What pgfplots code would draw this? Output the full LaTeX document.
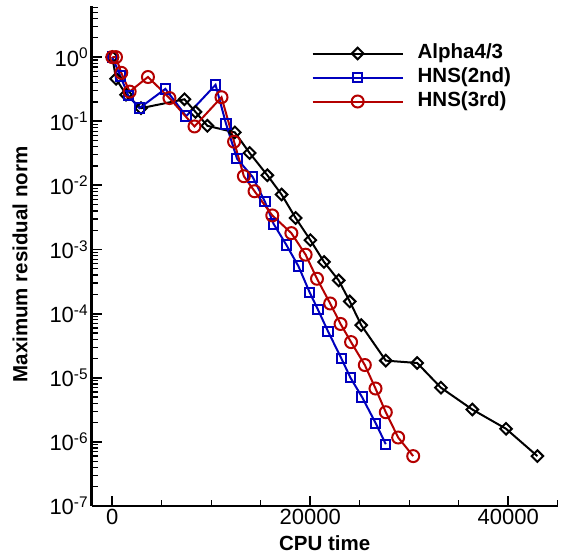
\documentclass[border=0pt]{standalone}
\usepackage{fontspec}
\setmainfont{Liberation Sans}
\usepackage{pgfplots}
\pgfplotsset{compat=1.18}
\definecolor{cBlue}{RGB}{0,0,190}
\definecolor{cRed}{RGB}{180,0,0}
\begin{document}
\begin{tikzpicture}
\begin{axis}[
  name=ax,
  scale only axis,
  width=466pt, height=500pt,
  xmin=-2085, xmax=45000,
  ymode=log, ymin=1e-7, ymax=6.27,
  axis x line*=bottom, axis y line*=left,
  axis line style={line width=2.8pt},
  xtick={0,20000,40000},
  minor xtick={5000,10000,15000,25000,30000,35000,45000},
  ytick={1e-7,1e-6,1e-5,1e-4,1e-3,1e-2,1e-1,1},
  yticklabels={10\textsuperscript{-7},10\textsuperscript{-6},10\textsuperscript{-5},10\textsuperscript{-4},10\textsuperscript{-3},10\textsuperscript{-2},10\textsuperscript{-1},10\textsuperscript{0}},
  minor ytick={2e-7,3e-7,4e-7,5e-7,6e-7,7e-7,8e-7,9e-7,
    2e-6,3e-6,4e-6,5e-6,6e-6,7e-6,8e-6,9e-6,
    2e-5,3e-5,4e-5,5e-5,6e-5,7e-5,8e-5,9e-5,
    2e-4,3e-4,4e-4,5e-4,6e-4,7e-4,8e-4,9e-4,
    2e-3,3e-3,4e-3,5e-3,6e-3,7e-3,8e-3,9e-3,
    2e-2,3e-2,4e-2,5e-2,6e-2,7e-2,8e-2,9e-2,
    0.2,0.3,0.4,0.5,0.6,0.7,0.8,0.9,2,3,4,5,6},
  xticklabel style={font=\fontsize{22}{26}\selectfont},
  yticklabel style={font=\fontsize{22}{26}\selectfont},
  /pgf/number format/assume math mode=true,
  /pgf/number format/1000 sep={},
  scaled x ticks=false,
  major tick length=10pt, minor tick length=6pt,
  every tick/.style={line width=1.8pt, black},
  every minor tick/.style={line width=1.3pt, black},
  xlabel={\textbf{CPU time}},
  ylabel={\textbf{Maximum residual norm}},
  every axis x label/.style={at={(axis description cs:0.5,-0.0746)}, anchor=center, font=\fontsize{20.5}{24}\selectfont},
  every axis y label/.style={at={(axis description cs:-0.1539,0.483)}, anchor=center, rotate=90, font=\fontsize{20.5}{24}\selectfont},
  legend style={at={(axis description cs:0.472,0.929)}, anchor=north west, draw=none, fill=none,
    inner sep=0pt, outer sep=0pt, row sep=0pt, column sep=12pt,
    font=\fontsize{20.5}{24}\selectfont\bfseries,
    nodes={inner sep=2pt, text height=15pt, text depth=5pt}},
  legend cell align=left,
  legend image code/.code={\draw[mark repeat=2,mark phase=2,#1] plot coordinates {(0pt,0pt) (45pt,0pt) (90pt,0pt)};},
]
\addplot[black, line width=2pt, mark=square, mark size=4.1pt, mark options={rotate=45, line width=2pt, fill=none}] coordinates {
(0,1.0) (375,0.46) (1390,0.26) (2900,0.16) (7290,0.22) (8400,0.14) (9600,0.085) (12380,0.067) (13870,0.032) (15660,0.0144) (17100,0.0072) (18520,0.0031) (20010,0.0014) (21390,6.4e-4) (22870,3.3e-4) (23990,1.55e-4) (25150,6.6e-5) (27630,1.85e-5) (30800,1.7e-5) (33200,7.0e-6) (36370,3.2e-6) (39780,1.6e-6) (42950,6.0e-7)
};
\addlegendentry{Alpha4/3}
\addplot[cBlue, line width=2pt, mark=square, mark size=4.7pt, mark options={line width=2pt, fill=none}] coordinates {
(0,1.0) (800,0.51) (1620,0.25) (2730,0.16) (5360,0.32) (7460,0.12) (10430,0.37) (11490,0.091) (12600,0.026) (14170,0.0136) (15410,0.0056) (16300,0.0025) (17580,0.00118) (18800,5.5e-4) (19940,2.14e-4) (20780,1.15e-4) (21790,5.3e-5) (23140,2.0e-5) (24060,1.0e-5) (25230,5.0e-6) (26620,1.94e-6) (27630,9.2e-7)
};
\addlegendentry{HNS(2nd)}
\addplot[cRed, line width=2pt, mark=o, mark size=6pt, mark options={line width=2pt, fill=none}] coordinates {
(0,1.0) (370,1.0) (900,0.57) (1750,0.29) (3600,0.49) (5770,0.23) (8300,0.083) (11030,0.237) (12300,0.048) (13290,0.0139) (14370,0.0081) (16160,0.0034) (18090,0.0018) (19530,8.3e-4) (20680,3.5e-4) (22010,1.44e-4) (23060,6.9e-5) (24120,3.6e-5) (25510,1.58e-5) (26590,6.8e-6) (27630,2.9e-6) (28880,1.17e-6) (30400,6.0e-7)
};
\addlegendentry{HNS(3rd)}
\end{axis}
\pgfresetboundingbox
\path[use as bounding box] ([xshift=-91.7pt,yshift=-51.3pt]ax.south west) rectangle ([xshift=3.3pt,yshift=6pt]ax.north east);
\end{tikzpicture}
\end{document}
